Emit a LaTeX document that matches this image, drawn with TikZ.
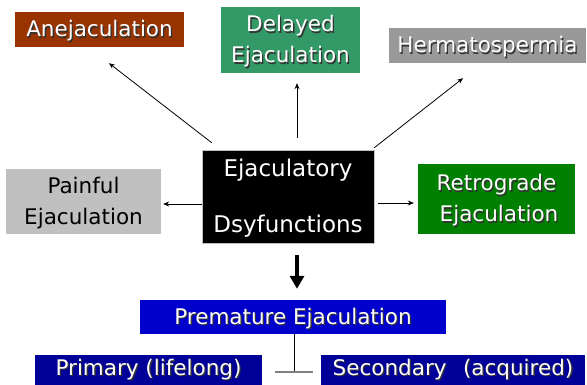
\documentclass[tikz,border=0pt]{standalone}
\usepackage{fontspec}
\setmainfont{DejaVu Sans}
\usetikzlibrary{arrows.meta}
\definecolor{anejcolor}{RGB}{153, 51, 0}
\definecolor{delaycolor}{RGB}{51, 153, 102}
\definecolor{hermacolor}{RGB}{153, 153, 153}
\definecolor{paincolor}{RGB}{192, 192, 192}
\definecolor{retrocolor}{RGB}{0, 128, 0}
\definecolor{prematcolor}{RGB}{0, 0, 204}
\definecolor{typecolor}{RGB}{0, 0, 153}

\begin{document}
\begin{tikzpicture}[x=1pt, y=-1pt,
    box/.style={rectangle, inner sep=0pt, text=white, align=center, text height=16pt, text depth=1pt, font=\fontsize{21.5}{31}\selectfont},
    twoline/.style={text height=47pt, text depth=1pt},
    arc/.style={draw, line width=0.8pt, -{Stealth[length=6pt,width=5pt]}},
    bigarc/.style={draw, line width=4pt, -{Triangle[length=13pt,width=14pt]}}
    ]
    \newcommand{\shtext}[1]{\makebox[0pt][l]{\hspace{1.3pt}\raisebox{-1.3pt}{\textcolor{black!80}{#1}}}#1}

    \useasboundingbox (0,0) rectangle (587,385);
    \clip (0,0) rectangle (587,385);

    % Define boxes
    \node[box, fill=anejcolor, minimum width=169pt, minimum height=35pt] (anej) at (99.5,29.5) {\shtext{Anejaculation}};
    \node[box, twoline, fill=delaycolor, minimum width=139pt, minimum height=66pt] (delayed) at (290.5,40) {\shtext{Delayed}\\\shtext{Ejaculation}};
    \node[box, fill=hermacolor, minimum width=197pt, minimum height=35pt] (herma) at (487.5,45.5) {\shtext{Hermatospermia}};
    \node[box, twoline, fill=paincolor, text=black, minimum width=155pt, minimum height=65pt] (painful) at (83.5,201.5) {Painful\\Ejaculation};
    \node[box, fill=black, draw=gray!50, font=\fontsize{23}{56}\selectfont, text height=74pt, text depth=1pt, minimum width=172pt, minimum height=93pt] (hub) at (288,196.5) {Ejaculatory\\Dsyfunctions};
    \node[box, twoline, fill=retrocolor, minimum width=157pt, minimum height=70pt] (retro) at (496.5,199) {\shtext{Retrograde}\\\hspace{5pt}\shtext{Ejaculation}};
    \node[box, fill=prematcolor, minimum width=306pt, minimum height=34pt] (prem) at (293,317) {\shtext{Premature Ejaculation}};
    \node[box, fill=typecolor, anchor=north, minimum width=227pt, text height=16pt, text depth=10pt, inner ysep=4pt] (primary) at (148.5,355) {\shtext{Primary (lifelong)}};
    \node[box, fill=typecolor, anchor=north, minimum width=264pt, text height=16pt, text depth=10pt, inner ysep=4pt] (secondary) at (453,355) {\shtext{Secondary\hspace{0.45em} (acquired)}};

    % Define edges
    \draw[arc] ([shift={(10,-7)}]hub.north west) -- ([shift={(9.5,16)}]anej.south);
    \draw[arc] ([shift={(9,-12)}]hub.north) -- ([shift={(6.5,10)}]delayed.south);
    \draw[arc] ([shift={(0,-2)}]hub.north east) -- ([shift={(-24.5,15)}]herma.south);
    \draw[arc] ([shift={(0,7.5)}]hub.west) -- ([shift={(2,2.5)}]painful.east);
    \draw[arc] ([shift={(4,6.5)}]hub.east) -- ([shift={(-4,4)}]retro.west);
    \draw[bigarc] ([shift={(9,12)}]hub.south) -- ([shift={(4,-11)}]prem.north);

    \coordinate (tjoin) at (294,372);
    \coordinate (tleft) at (275,372);
    \coordinate (tright) at (313,372);
    \draw[line width=0.8pt] ([xshift=1pt]prem.south) -- (tjoin);
    \draw[gray, line width=1.5pt] (tleft) -- (tright);
\end{tikzpicture}
\end{document}
